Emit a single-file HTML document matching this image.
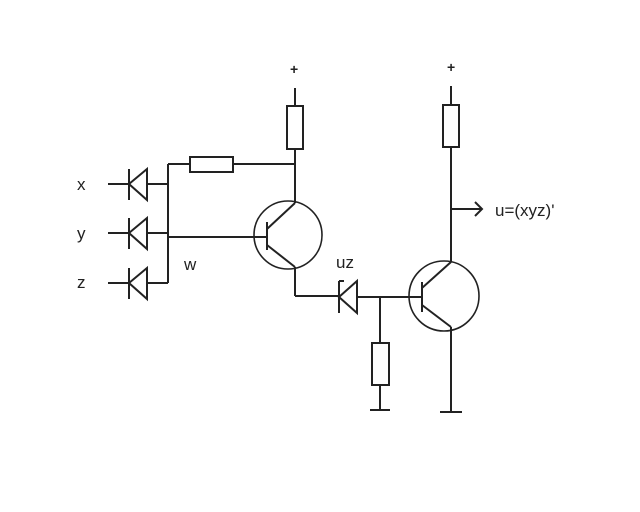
<!DOCTYPE html>
<html><head><style>
html,body{margin:0;padding:0;background:#fff;}
svg{display:block;}
text{font-family:"Liberation Sans",sans-serif;fill:#222;}
</style></head><body>
<svg width="640" height="512" viewBox="0 0 640 512" xmlns="http://www.w3.org/2000/svg">
<g stroke="#222" stroke-width="2" fill="none">
<line x1="108" y1="184" x2="129" y2="184"/>
<line x1="147" y1="184" x2="168" y2="184"/>
<line x1="129" y1="169" x2="129" y2="200"/>
<polygon points="129,184 147,169 147,200"/>
<line x1="108" y1="233" x2="129" y2="233"/>
<line x1="147" y1="233" x2="168" y2="233"/>
<line x1="129" y1="218" x2="129" y2="249"/>
<polygon points="129,233 147,218 147,249"/>
<line x1="108" y1="283" x2="129" y2="283"/>
<line x1="147" y1="283" x2="168" y2="283"/>
<line x1="129" y1="268" x2="129" y2="299"/>
<polygon points="129,283 147,268 147,299"/>
<line x1="168" y1="164" x2="168" y2="283"/>
<line x1="168" y1="164" x2="190" y2="164"/>
<rect x="190" y="157" width="43" height="15"/>
<line x1="233" y1="164" x2="295" y2="164"/>
<line x1="295" y1="88" x2="295" y2="106"/>
<rect x="287" y="106" width="16" height="43"/>
<line x1="295" y1="149" x2="295" y2="203"/>
<circle cx="288" cy="235" r="34" stroke-width="1.6"/>
<line x1="168" y1="237" x2="267" y2="237"/>
<line x1="267" y1="222" x2="267" y2="250"/>
<line x1="267" y1="229" x2="295" y2="203"/>
<line x1="267" y1="245" x2="295" y2="267"/>
<line x1="295" y1="267" x2="295" y2="296"/>
<line x1="295" y1="296" x2="339" y2="296"/>
<line x1="339" y1="281" x2="339" y2="313"/>
<line x1="339" y1="281" x2="344" y2="281"/>
<polygon points="339,297 357,281 357,313"/>
<line x1="357" y1="297" x2="422" y2="297"/>
<line x1="380" y1="297" x2="380" y2="343"/>
<rect x="372" y="343" width="17" height="42"/>
<line x1="380" y1="385" x2="380" y2="410"/>
<line x1="370" y1="410" x2="390" y2="410"/>
<line x1="451" y1="86" x2="451" y2="105"/>
<rect x="443" y="105" width="16" height="42"/>
<line x1="451" y1="147" x2="451" y2="262"/>
<line x1="451" y1="209" x2="482" y2="209"/>
<polyline points="475,202 482,209 475,216"/>
<circle cx="444" cy="296" r="35" stroke-width="1.6"/>
<line x1="422" y1="282" x2="422" y2="312"/>
<line x1="422" y1="288" x2="451" y2="262"/>
<line x1="422" y1="305" x2="451" y2="327"/>
<line x1="451" y1="327" x2="451" y2="412"/>
<line x1="440" y1="412" x2="462" y2="412"/>
</g>
<g font-size="17">
<text x="77" y="190">x</text>
<text x="77" y="239">y</text>
<text x="77" y="288">z</text>
<text x="184" y="270">w</text>
<text x="336" y="268">uz</text>
<text x="495" y="216">u=(xyz)'</text>
<text x="290" y="74" font-size="14" font-weight="bold">+</text>
<text x="447" y="72" font-size="14" font-weight="bold">+</text>
</g>
</svg>
</body></html>
